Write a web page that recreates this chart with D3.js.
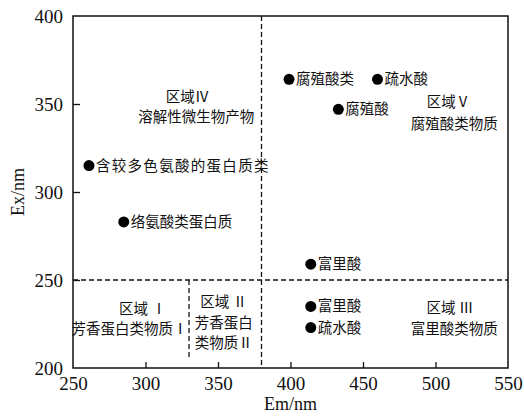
<!DOCTYPE html>
<html>
<head>
<meta charset="utf-8">
<script src="https://cdn.jsdelivr.net/npm/d3@7"></script>
<style>
  html, body { margin: 0; padding: 0; background: #fff; }
  svg { display: block; }
  text { fill: #111; }
</style>
</head>
<body>
<svg id="chart" width="524" height="417"></svg>
<script>
// Fluorescence peak positions (Em, Ex in nm) and their labels
const pointLabels = ["含较多色氨酸的蛋白质类", "络氨酸类蛋白质", "腐殖酸类", "疏水酸", "腐殖酸", "富里酸", "富里酸", "疏水酸"];
const pointEm = [261, 285, 399, 460, 433, 414, 414, 414];
const pointEx = [315, 283, 364, 364, 347, 259, 235, 223];

// Region boundaries
const boundaryEm = 380;      // vertical divider, full height
const boundaryEx = 250;      // horizontal divider, full width
const boundaryEmLow = 330;   // divider between regions I and II

// Region captions: text lines, anchor (Em, Ex) in data units
const regionLines = [
  ["区域Ⅳ", "溶解性微生物产物"],
  ["区域Ⅴ", "腐殖酸类物质"],
  ["区域 Ⅰ", "芳香蛋白类物质Ⅰ"],
  ["区域 Ⅱ", "芳香蛋白", "类物质Ⅱ"],
  ["区域 Ⅲ", "富里酸类物质"]
];
const regionEm = [[329, 335], [509, 513], [298, 289], [354, 354, 354], [510, 513]];
const regionEx = [[354, 342.5], [351, 338.5], [233.5, 222], [237.5, 225.5, 214], [234, 222]];

const xTicks = [250, 300, 350, 400, 450, 500, 550];
const yTicks = [200, 250, 300, 350, 400];

const svg = d3.select("#chart");
const mLeft = 73, mRight = 508, mTop = 16, mBottom = 368;

const x = d3.scaleLinear().domain([250, 550]).range([mLeft, mRight]);
const y = d3.scaleLinear().domain([200, 400]).range([mBottom, mTop]);

const serif = "'Liberation Serif', 'Times New Roman', 'Noto Sans CJK SC', serif";
const cjk = "'Liberation Serif', 'Noto Sans CJK SC', serif";

// Axes: inward ticks, labels outside
const xAxis = d3.axisBottom(x).tickValues(xTicks).tickSize(-6).tickPadding(9).tickFormat(d3.format("d"));
const yAxis = d3.axisLeft(y).tickValues(yTicks).tickSize(-7).tickPadding(10).tickFormat(d3.format("d"));

const gx = svg.append("g").attr("transform", `translate(0,${mBottom})`).call(xAxis);
const gy = svg.append("g").attr("transform", `translate(${mLeft},0)`).call(yAxis);

[gx, gy].forEach(g => {
  g.select(".domain").remove();
  g.selectAll(".tick line").attr("stroke", "#111").attr("stroke-width", 1.3);
  g.selectAll(".tick text").attr("font-family", serif).attr("font-size", 19).attr("fill", "#111");
});
// no ticks drawn on the frame corners
gx.selectAll(".tick").filter(d => d === 250 || d === 550).select("line").remove();
gy.selectAll(".tick").filter(d => d === 200 || d === 400).select("line").remove();
gy.selectAll(".tick text").attr("dy", "0.34em");

// Plot frame
svg.append("rect")
  .attr("x", x(250)).attr("y", y(400))
  .attr("width", x(550) - x(250)).attr("height", y(200) - y(400))
  .attr("fill", "none").attr("stroke", "#111").attr("stroke-width", 1.5);

// Region dividers
const dash = "5,3";
svg.append("line")
  .attr("x1", x(boundaryEm)).attr("x2", x(boundaryEm))
  .attr("y1", y(400)).attr("y2", y(200))
  .attr("stroke", "#111").attr("stroke-width", 1.3).attr("stroke-dasharray", dash);
svg.append("line")
  .attr("x1", x(250)).attr("x2", x(550))
  .attr("y1", y(boundaryEx)).attr("y2", y(boundaryEx))
  .attr("stroke", "#111").attr("stroke-width", 1.3).attr("stroke-dasharray", dash);
svg.append("line")
  .attr("x1", x(boundaryEmLow)).attr("x2", x(boundaryEmLow))
  .attr("y1", y(boundaryEx)).attr("y2", y(200) - 8)
  .attr("stroke", "#111").attr("stroke-width", 1.3).attr("stroke-dasharray", dash);

// Region captions
regionLines.forEach((lines, i) => {
  lines.forEach((t, j) => {
    svg.append("text")
      .attr("x", x(regionEm[i][j])).attr("y", y(regionEx[i][j]))
      .attr("text-anchor", "middle").attr("dy", "0.35em")
      .attr("font-family", cjk).attr("font-size", 14.5)
      .attr("fill", "#222")
      .text(t);
  });
});

// Peaks
const pts = pointLabels.map((l, i) => ({ label: l, em: pointEm[i], ex: pointEx[i] }));
const g = svg.append("g");
g.selectAll("circle").data(pts).join("circle")
  .attr("cx", d => x(d.em)).attr("cy", d => y(d.ex)).attr("r", 5.5)
  .attr("fill", "#000");
g.selectAll("text").data(pts).join("text")
  .attr("x", d => x(d.em) + 7).attr("y", d => y(d.ex))
  .attr("dy", "0.35em")
  .attr("font-family", cjk).attr("font-size", 14.5)
  .attr("fill", "#222")
  .attr("letter-spacing", d => d.label.length > 8 ? 1.3 : 0)
  .text(d => d.label);

// Axis titles
svg.append("text")
  .attr("x", (mLeft + mRight) / 2).attr("y", 410)
  .attr("text-anchor", "middle")
  .attr("font-family", serif).attr("font-size", 18)
  .text("Em/nm");
svg.append("text")
  .attr("transform", `translate(24,${(mTop + mBottom) / 2}) rotate(-90)`)
  .attr("text-anchor", "middle")
  .attr("font-family", serif).attr("font-size", 18)
  .text("Ex/nm");
</script>
</body>
</html>
